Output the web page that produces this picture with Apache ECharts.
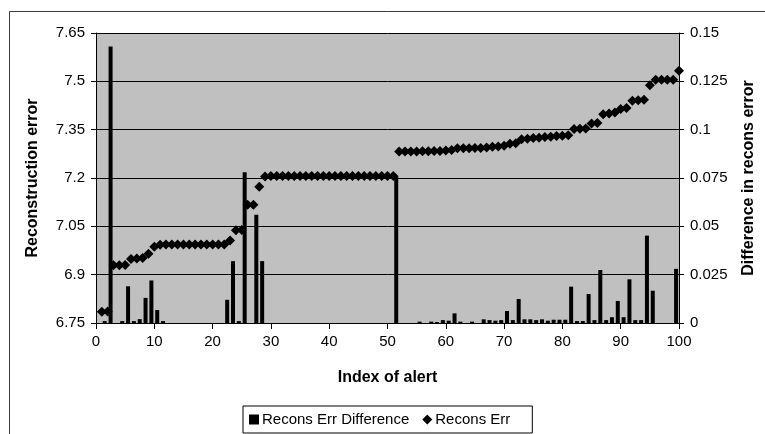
<!DOCTYPE html>
<html>
<head>
<meta charset="utf-8">
<script src="https://cdn.jsdelivr.net/npm/echarts@6/dist/echarts.min.js"></script>
<style>
  html, body { margin: 0; padding: 0; background: #fff; }
  #chart { width: 765px; height: 434px; }
</style>
</head>
<body>
<div id="chart"></div>
<script>
// Alert index (1..100)
const alertIndex = Array.from({ length: 100 }, (_, k) => k + 1);

// Reconstruction error per alert, sorted ascending
const reconsErr = [
  6.785, 6.786, 6.929, 6.929, 6.930, 6.949, 6.950, 6.952, 6.965, 6.987,
  6.993, 6.994, 6.994, 6.994, 6.994, 6.994, 6.994, 6.994, 6.994, 6.994,
  6.994, 6.994, 7.006, 7.038, 7.039, 7.117, 7.117, 7.173, 7.205, 7.206,
  7.206, 7.206, 7.206, 7.206, 7.206, 7.206, 7.206, 7.206, 7.206, 7.206,
  7.206, 7.206, 7.206, 7.206, 7.206, 7.206, 7.206, 7.206, 7.206, 7.206,
  7.206, 7.282, 7.282, 7.282, 7.282, 7.283, 7.283, 7.284, 7.284, 7.285,
  7.287, 7.292, 7.292, 7.292, 7.293, 7.293, 7.295, 7.297, 7.298, 7.300,
  7.306, 7.308, 7.320, 7.322, 7.324, 7.325, 7.327, 7.328, 7.330, 7.331,
  7.333, 7.352, 7.353, 7.354, 7.369, 7.371, 7.398, 7.400, 7.403, 7.414,
  7.417, 7.440, 7.441, 7.443, 7.488, 7.505, 7.505, 7.505, 7.505, 7.533
];

// Difference in reconstruction error from the previous alert
const reconsDiff = [
  0, 0.001, 0.143, 0, 0.001, 0.019, 0.001, 0.002, 0.013, 0.022,
  0.0067, 0.001, 0, 0, 0, 0, 0, 0, 0, 0,
  0, 0, 0.012, 0.032, 0.001, 0.078, 0, 0.056, 0.032, 0,
  0, 0, 0, 0, 0, 0, 0, 0, 0, 0,
  0, 0, 0, 0, 0, 0, 0, 0, 0, 0,
  0, 0.076, 0, 0, 0, 0.0007, 0, 0.0007, 0.0005, 0.0015,
  0.0012, 0.005, 0.0007, 0, 0.0007, 0, 0.0019, 0.0015, 0.0012, 0.0015,
  0.0062, 0.0015, 0.0124, 0.0019, 0.0019, 0.0015, 0.0019, 0.0012, 0.0017, 0.0017,
  0.0017, 0.0188, 0.001, 0.001, 0.015, 0.0015, 0.0274, 0.0015, 0.003, 0.0114,
  0.003, 0.0226, 0.0015, 0.0015, 0.0452, 0.0167, 0, 0, 0, 0.028
];

// Axis ranges
const errAxis = { min: 6.75, max: 7.65, step: 0.15 };
const diffAxis = { min: 0, max: 0.15, step: 0.025 };
const indexAxis = { min: 0, max: 100, step: 10 };

const FONT = 'Liberation Sans, Arial, sans-serif';
const fmt = (d) => (v) => String(parseFloat(v.toFixed(d)));
const titleStyle = { fontFamily: FONT, fontSize: 16, fontWeight: 'bold', color: '#000' };
const tickStyle = { fontFamily: FONT, fontSize: 15, color: '#000' };

const chart = echarts.init(document.getElementById('chart'));

chart.setOption({
  animation: false,
  backgroundColor: '#ffffff',
  textStyle: { fontFamily: FONT, color: '#000' },
  graphic: [
    {
      type: 'polyline',
      silent: true,
      shape: { points: [[9.5, 434], [9.5, 11.5], [765, 11.5]] },
      style: { stroke: '#3a3a3a', lineWidth: 1, fill: null }
    }
  ],
  grid: {
    left: 96, right: 86, top: 33, bottom: 111,
    show: true,
    backgroundColor: '#c0c0c0',
    borderWidth: 0
  },
  legend: {
    bottom: 1,
    left: 243,
    orient: 'horizontal',
    backgroundColor: '#fff',
    borderColor: '#000',
    borderWidth: 1,
    borderRadius: 0,
    padding: [6, 22, 6, 6],
    itemGap: 13,
    itemWidth: 10,
    itemHeight: 10,
    textStyle: { fontFamily: FONT, fontSize: 15, color: '#000', padding: [0, 0, 0, -2] },
    data: [
      { name: 'Recons Err Difference', icon: 'rect' },
      { name: 'Recons Err', icon: 'diamond' }
    ]
  },
  xAxis: [
    {
      type: 'value',
      min: indexAxis.min, max: indexAxis.max, interval: indexAxis.step,
      name: 'Index of alert',
      nameLocation: 'middle',
      nameGap: 47,
      nameTextStyle: titleStyle,
      axisLine: { show: true, onZero: false, lineStyle: { color: '#000', width: 1 } },
      axisTick: { show: true, inside: false, length: 6, lineStyle: { color: '#000' } },
      axisLabel: Object.assign({ margin: 11 }, tickStyle),
      splitLine: { show: false }
    },
    {
      type: 'category',
      data: alertIndex,
      position: 'bottom',
      show: false,
      boundaryGap: true
    }
  ],
  yAxis: [
    {
      type: 'value',
      min: errAxis.min, max: errAxis.max, interval: errAxis.step,
      name: 'Reconstruction error',
      nameLocation: 'middle',
      nameGap: 55,
      nameRotate: 90,
      nameTextStyle: titleStyle,
      axisLine: { show: true, lineStyle: { color: '#000', width: 1 } },
      axisTick: { show: true, length: 5, lineStyle: { color: '#000' } },
      axisLabel: Object.assign({ margin: 11, formatter: fmt(2) }, tickStyle),
      splitLine: { show: true, lineStyle: { color: '#000', width: 1 } }
    },
    {
      type: 'value',
      min: diffAxis.min, max: diffAxis.max, interval: diffAxis.step,
      position: 'right',
      name: 'Difference in recons error',
      nameLocation: 'middle',
      nameGap: 62,
      nameRotate: 90,
      nameTextStyle: titleStyle,
      axisLine: { show: true, lineStyle: { color: '#000', width: 1 } },
      axisTick: { show: true, length: 5, lineStyle: { color: '#000' } },
      axisLabel: Object.assign({ margin: 11, formatter: fmt(3) }, tickStyle),
      splitLine: { show: false }
    }
  ],
  series: [
    {
      name: 'Recons Err Difference',
      type: 'bar',
      xAxisIndex: 1,
      yAxisIndex: 1,
      barWidth: 4,
      itemStyle: { color: '#000' },
      data: reconsDiff
    },
    {
      name: 'Recons Err',
      type: 'scatter',
      xAxisIndex: 0,
      yAxisIndex: 0,
      symbol: 'diamond',
      symbolSize: 10,
      itemStyle: { color: '#000', opacity: 1 },
      data: alertIndex.map((x, k) => [x, reconsErr[k]])
    }
  ]
});
</script>
</body>
</html>
